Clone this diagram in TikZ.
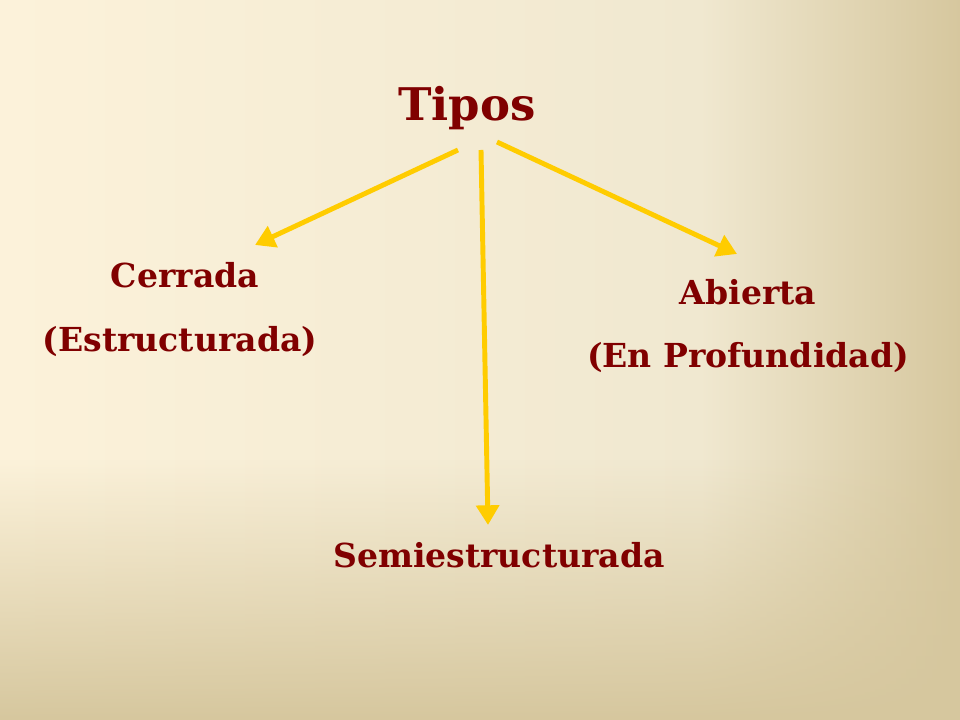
\documentclass[tikz,border=0pt]{standalone}
\usepackage{fontspec}
\setmainfont{DejaVu Serif}
\usetikzlibrary{arrows.meta,fadings}
\definecolor{titlered}{RGB}{128,0,0}
\definecolor{gold}{RGB}{255,204,0}
\definecolor{creamL}{RGB}{252,242,218}
\definecolor{creamM}{RGB}{240,232,208}
\definecolor{tanR}{RGB}{214,199,158}
\tikzset{
  label/.style={text=titlered, font=\bfseries\fontsize{23.5}{27}\selectfont},
  link/.style={draw=gold, line width=3.5pt, -{Triangle[length=14pt,width=16pt]}}
}
\begin{document}
\begin{tikzpicture}[x=0.025cm, y=-0.025cm]
	% Fondo
	\fill[left color=creamL, right color=creamM] (0,0) rectangle (700,720);
	\fill[left color=creamM, right color=tanR] (700,0) rectangle (960,720);
	\fill[tanR, path fading=north] (0,460) rectangle (960,720);
	\useasboundingbox (0,0) rectangle (960,720);
	
	% Textos
	\node[label, font=\bfseries\fontsize{32}{36}\selectfont] (tipos) at (467,108) {Tipos};
	\node[label] (cerrada) at (185,275) {Cerrada};
	\node[label] (estructurada) at (180,342) {(Estructurada)};
	\node[label] (abierta) at (748,292) {Abierta};
	\node[label] (profundidad) at (748,358) {(En Profundidad)};
	\node[label] (semi) at (499,555) {Semiestructurada};
	
	% Flechas
	\coordinate (fromL) at (458,150);
	\coordinate (fromM) at (481,150);
	\coordinate (fromR) at (497,142);
	\coordinate (toL) at (255,245);
	\coordinate (toM) at (488,525);
	\coordinate (toR) at (737,254);
	\draw[link] (fromL) -- (toL);
	\draw[link] (fromM) -- (toM);
	\draw[link] (fromR) -- (toR);
\end{tikzpicture}
\end{document}
